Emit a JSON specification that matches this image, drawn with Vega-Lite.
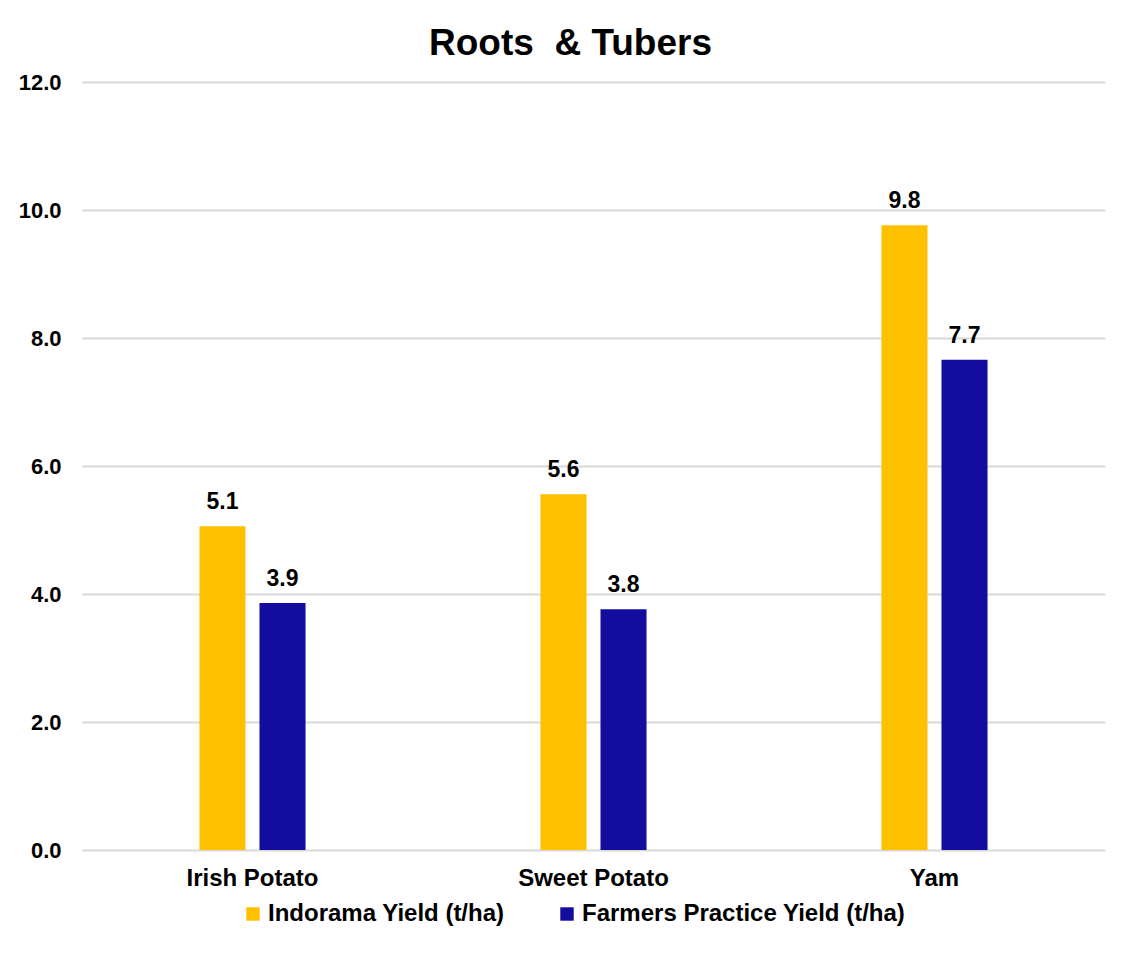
{
  "$schema": "https://vega.github.io/schema/vega-lite/v6.json",
  "width": 1023,
  "height": 768,
  "autosize": {"type": "none"},
  "padding": {"left": 82, "top": 82, "right": 30, "bottom": 103},
  "background": "white",
  "title": {
    "text": "Roots\u00a0 & Tubers",
    "font": "Liberation Sans",
    "fontSize": 37,
    "fontWeight": "bold",
    "color": "#000000",
    "anchor": "middle",
    "dx": -23,
    "offset": 8
  },
  "data": {
    "values": [
      {"crop": "Irish Potato", "series": "Indorama Yield (t/ha)", "yield": 5.06},
      {"crop": "Irish Potato", "series": "Farmers Practice Yield (t/ha)", "yield": 3.86},
      {"crop": "Sweet Potato", "series": "Indorama Yield (t/ha)", "yield": 5.56},
      {"crop": "Sweet Potato", "series": "Farmers Practice Yield (t/ha)", "yield": 3.76},
      {"crop": "Yam", "series": "Indorama Yield (t/ha)", "yield": 9.76},
      {"crop": "Yam", "series": "Farmers Practice Yield (t/ha)", "yield": 7.66}
    ]
  },
  "encoding": {
    "x": {
      "field": "crop",
      "type": "nominal",
      "sort": ["Irish Potato", "Sweet Potato", "Yam"],
      "scale": {"paddingInner": 0.689, "paddingOuter": 0.3445},
      "axis": {
        "title": null,
        "labelAngle": 0,
        "labelFont": "Liberation Sans",
        "labelFontSize": 24,
        "labelFontWeight": "bold",
        "labelColor": "#000000",
        "labelPadding": 16,
        "labelLimit": 400,
        "ticks": false,
        "domain": false
      }
    },
    "xOffset": {
      "field": "series",
      "type": "nominal",
      "sort": ["Indorama Yield (t/ha)", "Farmers Practice Yield (t/ha)"],
      "scale": {"paddingInner": 0.233, "paddingOuter": 0}
    },
    "y": {
      "field": "yield",
      "type": "quantitative",
      "scale": {"domain": [0, 12], "nice": false},
      "axis": {
        "title": null,
        "values": [0, 2, 4, 6, 8, 10, 12],
        "format": ".1f",
        "labelFont": "Liberation Sans",
        "labelFontSize": 22,
        "labelFontWeight": "bold",
        "labelColor": "#000000",
        "labelPadding": 21,
        "ticks": false,
        "domain": false,
        "gridColor": "#d9d9d9",
        "gridWidth": 2
      }
    }
  },
  "layer": [
    {
      "mark": {"type": "bar"},
      "encoding": {
        "color": {
          "field": "series",
          "type": "nominal",
          "sort": ["Indorama Yield (t/ha)", "Farmers Practice Yield (t/ha)"],
          "scale": {
            "domain": ["Indorama Yield (t/ha)", "Farmers Practice Yield (t/ha)"],
            "range": ["#ffc000", "#130c9e"]
          },
          "legend": {
            "title": null,
            "orient": "none",
            "legendX": 159,
            "legendY": 820,
            "direction": "horizontal",
            "symbolType": "square",
            "symbolSize": 180,
            "symbolStrokeWidth": 0,
            "labelFont": "Liberation Sans",
            "labelFontSize": 24,
            "labelFontWeight": "bold",
            "labelColor": "#000000",
            "labelLimit": 500,
            "columnPadding": 50,
            "labelOffset": 3
          }
        }
      }
    },
    {
      "mark": {
        "type": "text",
        "font": "Liberation Sans",
        "fontSize": 23,
        "fontWeight": "bold",
        "color": "#000000",
        "baseline": "alphabetic",
        "dy": -17
      },
      "encoding": {
        "text": {"field": "yield", "type": "quantitative", "format": ".1f"}
      }
    }
  ],
  "config": {"view": {"stroke": null}}
}
